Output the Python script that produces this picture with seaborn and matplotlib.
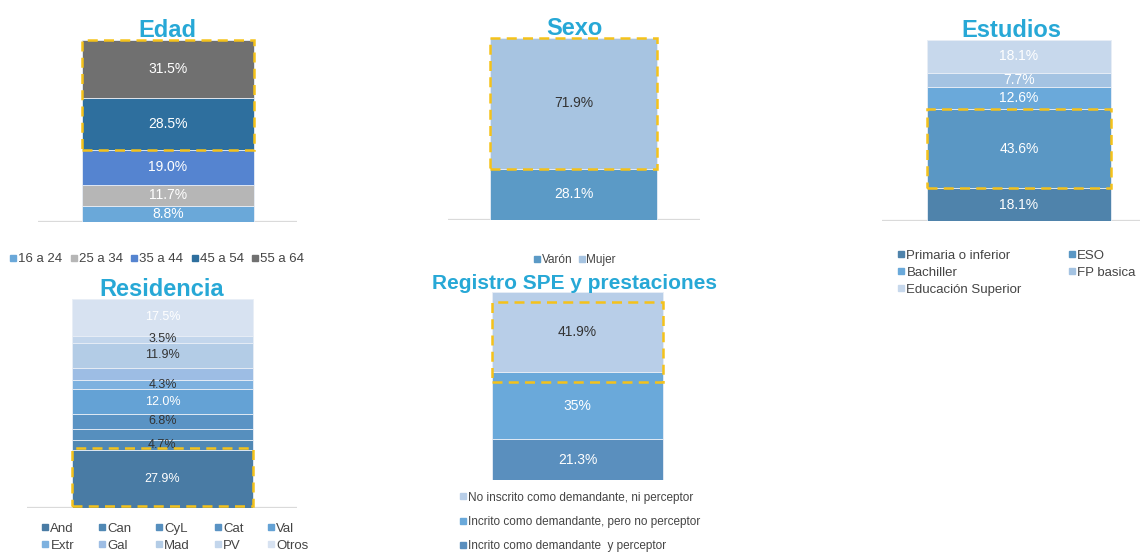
import matplotlib
matplotlib.use('Agg')
import matplotlib.pyplot as plt
import seaborn as sns
from matplotlib.lines import Line2D
from matplotlib.patches import Rectangle

sns.set_style('white')
plt.rcParams['font.family'] = ['Liberation Sans', 'DejaVu Sans']

# Data
edad_cats = ['16 a 24', '25 a 34', '35 a 44', '45 a 54', '55 a 64']
edad_vals = [8.8, 11.7, 19.0, 28.5, 31.5]

sexo_cats = ['Varón', 'Mujer']
sexo_vals = [28.1, 71.9]

estudios_cats = ['Primaria o inferior', 'ESO', 'Bachiller', 'FP basica', 'Educación Superior']
estudios_vals = [18.1, 43.6, 12.6, 7.7, 18.1]

resid_cats = ['And', 'Can', 'CyL', 'Cat', 'Val', 'Extr', 'Gal', 'Mad', 'PV', 'Otros']
resid_vals = [27.9, 4.7, 5.4, 6.8, 12.0, 4.3, 6.0, 11.9, 3.5, 17.5]
resid_labels = ['27.9%', '4.7%', None, '6.8%', '12.0%', '4.3%', None, '11.9%', '3.5%', '17.5%']

spe_cats = ['Incrito como demandante  y perceptor',
            'Incrito como demandante, pero no perceptor',
            'No inscrito como demandante, ni perceptor']
spe_vals = [21.3, 35, 41.9]
spe_labels = ['21.3%', '35%', '41.9%']

TITLE_C = '#27A8D6'
GOLD = '#F5C21A'
DARK = '#333333'
W = 1140
H = 552

fig = plt.figure(figsize=(11.4, 5.52), dpi=100)


def px_axes(x0, x1, y0, y1):
    return fig.add_axes([x0 / W, 1 - y1 / H, (x1 - x0) / W, (y1 - y0) / H])


def stacked(ax, cats, vals, colors, labels, txtcolors, bar_l, bar_r, ax_l, ax_r,
            highlight, baseline=True, fs=10, box_shift=0):
    bottom = 0
    bounds = []
    for cat, v, c, lab, tc in zip(cats, vals, colors, labels, txtcolors):
        sns.barplot(x=['g'], y=[v], bottom=bottom, color=c, width=1, ax=ax,
                    edgecolor='#E8EEF6', linewidth=0.6, saturation=1)
        if lab:
            ax.text(0, bottom + v / 2, lab, ha='center', va='center', color=tc,
                    fontsize=fs)
        bounds.append((bottom, bottom + v))
        bottom += v
    bw = bar_r - bar_l
    ax.set_xlim(-0.5 - (bar_l - ax_l) / bw, 0.5 + (ax_r - bar_r) / bw)
    ax.set_ylim(0, bottom)
    lo = bounds[highlight[0]][0] - box_shift
    hi = bounds[highlight[-1]][1] - box_shift
    ax.add_patch(Rectangle((-0.5, lo), 1, hi - lo, fill=False, edgecolor=GOLD,
                           lw=1.8, ls=(0, (4, 2.5)), clip_on=False, zorder=5))
    if baseline:
        ax.axhline(0, color='#DADADA', lw=1.6, zorder=0)
    ax.set_axis_off()


def handles(colors):
    return [Line2D([], [], marker='s', ls='none', markersize=5, color=c) for c in colors]


def title(ax, txt, fs=17):
    ax.set_title(txt, color=TITLE_C, fontsize=fs, fontweight='bold', pad=2)


# Edad
ax1 = px_axes(38, 297, 40, 222)
edad_cols = ['#6AA8D9', '#B6B6B6', '#5584D0', '#2E6F9E', '#707070']
stacked(ax1, edad_cats, edad_vals, edad_cols, [f'{v:.1f}%' for v in edad_vals],
        ['white'] * 5, 82, 254, 38, 297, [3, 4])
title(ax1, 'Edad')
fig.legend(handles(edad_cols), edad_cats, loc='center', bbox_to_anchor=(156 / W, 1 - 259 / H),
           ncol=5, frameon=False, fontsize=9.5, handletextpad=0.0, columnspacing=0.45,
           labelcolor='#444444', handlelength=0.8)

# Sexo
ax2 = px_axes(448, 700, 38, 220)
sexo_cols = ['#5B9AC6', '#A7C4E1']
stacked(ax2, sexo_cats, sexo_vals, sexo_cols, [f'{v:.1f}%' for v in sexo_vals],
        ['white', DARK], 490, 657, 448, 700, [1])
title(ax2, 'Sexo')
fig.legend(handles(sexo_cols), sexo_cats, loc='center', bbox_to_anchor=(574 / W, 1 - 260 / H),
           ncol=2, frameon=False, fontsize=8.5, handletextpad=0.0, columnspacing=0.4,
           labelcolor='#444444', handlelength=0.8)

# Estudios
ax3 = px_axes(882, 1140, 40, 221)
est_cols = ['#4F83AB', '#5A97C4', '#6AA9DA', '#A4C3E2', '#C7D8EC']
stacked(ax3, estudios_cats, estudios_vals, est_cols, [f'{v:.1f}%' for v in estudios_vals],
        ['white'] * 5, 927, 1111, 882, 1140, [1])
title(ax3, 'Estudios')
order = [0, 2, 4, 1, 3]
fig.legend([handles(est_cols)[i] for i in order], [estudios_cats[i] for i in order],
           loc='upper left', bbox_to_anchor=(884 / W, 1 - 238 / H), ncol=2, frameon=False,
           fontsize=9.5, handletextpad=0.0, columnspacing=3.4, labelspacing=0.35,
           labelcolor='#444444', handlelength=0.8)

# Residencia
ax4 = px_axes(27, 297, 299, 508)
res_cols = ['#497BA4', '#5088B4', '#568FBE', '#5A93C4', '#64A2D5', '#7DB1DF',
            '#9DBDE4', '#B3CCE6', '#C3D6EC', '#D7E2F1']
res_tc = ['white', DARK, DARK, DARK, 'white', DARK, DARK, DARK, DARK, 'white']
stacked(ax4, resid_cats, resid_vals, res_cols, resid_labels, res_tc, 72, 253, 27, 297,
        [0], fs=9, box_shift=-1)
title(ax4, 'Residencia')
# legend fills column-wise, so interleave the two rows
rorder = [0, 5, 1, 6, 2, 7, 3, 8, 4, 9]
fig.legend([handles(res_cols)[i] for i in rorder], [resid_cats[i] for i in rorder],
           loc='upper left', bbox_to_anchor=(28 / W, 1 - 511 / H),
           ncol=5, frameon=False, fontsize=9.5, handletextpad=0.0, columnspacing=1.7,
           labelspacing=0.35, labelcolor='#444444', handlelength=0.8)

# Registro SPE
ax5 = px_axes(450, 700, 292, 480)
spe_cols = ['#5A8FBE', '#6AA9DA', '#B8CEE8']
stacked(ax5, spe_cats, spe_vals, spe_cols, spe_labels, ['white', 'white', DARK],
        492, 663, 450, 700, [2], baseline=False, box_shift=5)
title(ax5, 'Registro SPE y prestaciones', fs=15)
fig.legend(handles(spe_cols)[::-1], spe_cats[::-1], loc='upper left',
           bbox_to_anchor=(448 / W, 1 - 481 / H), ncol=1, frameon=False, fontsize=8.5,
           handletextpad=0.0, labelspacing=1.05, labelcolor='#444444', handlelength=0.8)

fig.savefig('out.png', dpi=100)
